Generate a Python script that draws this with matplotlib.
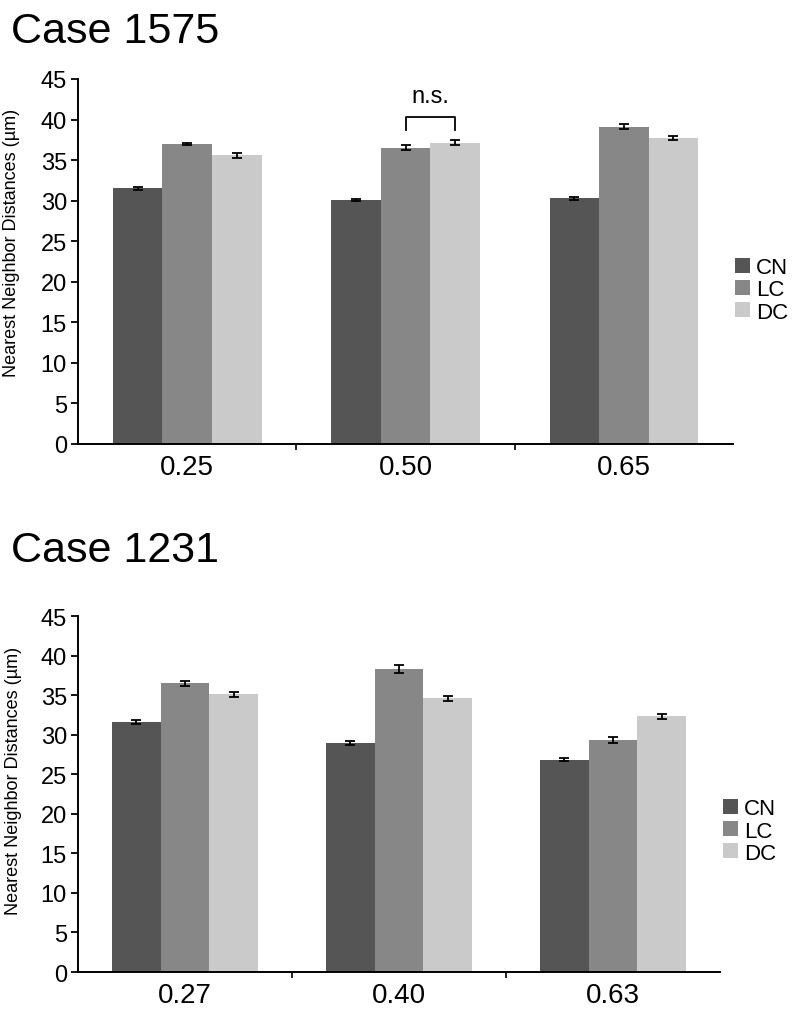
import matplotlib
matplotlib.use("Agg")
import matplotlib.pyplot as plt
import numpy as np

plt.rcParams['font.family'] = ['Liberation Sans', 'DejaVu Sans']

# data
groups = ["CN", "LC", "DC"]
colors = ["#555555", "#878787", "#cacaca"]

top_title = "Case 1575"
top_ticks = ["0.25", "0.50", "0.65"]
top_cn = [31.5, 30.1, 30.3]
top_lc = [37.0, 36.5, 39.1]
top_dc = [35.6, 37.15, 37.7]
top_cn_err = [0.2, 0.15, 0.2]
top_lc_err = [0.15, 0.3, 0.3]
top_dc_err = [0.3, 0.3, 0.25]

bot_title = "Case 1231"
bot_ticks = ["0.27", "0.40", "0.63"]
bot_cn = [31.6, 29.0, 26.85]
bot_lc = [36.5, 38.3, 29.3]
bot_dc = [35.1, 34.6, 32.3]
bot_cn_err = [0.2, 0.25, 0.15]
bot_lc_err = [0.3, 0.45, 0.35]
bot_dc_err = [0.3, 0.3, 0.3]

W = 0.227

fig = plt.figure(figsize=(8, 10.12), dpi=100)


def draw(ax, ticks, vals, errs, label_y):
    x = np.arange(len(ticks))
    for i, (v, e) in enumerate(zip(vals, errs)):
        ax.bar(x + (i - 1) * W, v, W, color=colors[i], label=groups[i], zorder=2)
        ax.errorbar(x + (i - 1) * W, v, yerr=e, fmt="none", ecolor="black",
                    elinewidth=1.3, capsize=3.5, capthick=1.3, zorder=3)
    ax.set_xlim(-0.5, 2.5)
    ax.set_ylim(0, 45)
    ax.set_yticks(range(0, 46, 5))
    ax.set_xticks(x)
    ax.set_xticklabels(ticks, fontsize=20)
    ax.tick_params(axis="x", length=0, pad=7)
    ax.set_xticks([0.5, 1.5], minor=True)
    ax.tick_params(axis="x", which="minor", length=4, width=1.2, direction="out")
    ax.tick_params(axis="y", labelsize=17, length=5, width=1.3, pad=3)
    ax.spines["top"].set_visible(False)
    ax.spines["right"].set_visible(False)
    ax.spines["left"].set_linewidth(1.4)
    ax.spines["bottom"].set_linewidth(1.4)
    ax.set_ylabel("Nearest Neighbor Distances (µm)", fontsize=13, labelpad=6)
    ax.yaxis.set_label_coords(-0.088, label_y)


def add_legend(ax, anchor):
    fig.legend(*ax.get_legend_handles_labels(), loc="center left",
               bbox_to_anchor=anchor, frameon=False, fontsize=16,
               handlelength=0.65, handleheight=0.65, handletextpad=0.3,
               labelspacing=0.05, borderpad=0, borderaxespad=0)


# top panel
ax1 = fig.add_axes([0.0975, 0.5603, 0.8188, 0.3607])
draw(ax1, top_ticks, [top_cn, top_lc, top_dc], [top_cn_err, top_lc_err, top_dc_err], 0.553)
# n.s. bracket between LC and DC at 0.50
bx = [1, 1, 1 + W, 1 + W]
by = [38.7, 40.3, 40.3, 38.7]
ax1.plot(bx, by, color="black", lw=1.3, clip_on=False)
ax1.text(1 + W / 2, 41.6, "n.s.", ha="center", va="bottom", fontsize=17)
add_legend(ax1, (0.919, 1 - 291 / 1012))
fig.text(0.014, 0.9575, top_title, fontsize=31, va="baseline", ha="left")

# bottom panel
ax2 = fig.add_axes([0.0975, 0.0385, 0.8025, 0.3518])
draw(ax2, bot_ticks, [bot_cn, bot_lc, bot_dc], [bot_cn_err, bot_lc_err, bot_dc_err], 0.539)
add_legend(ax2, (0.904, 1 - 832 / 1012))
fig.text(0.014, 0.4447, bot_title, fontsize=31, va="baseline", ha="left")

fig.savefig("out.png", dpi=100)
